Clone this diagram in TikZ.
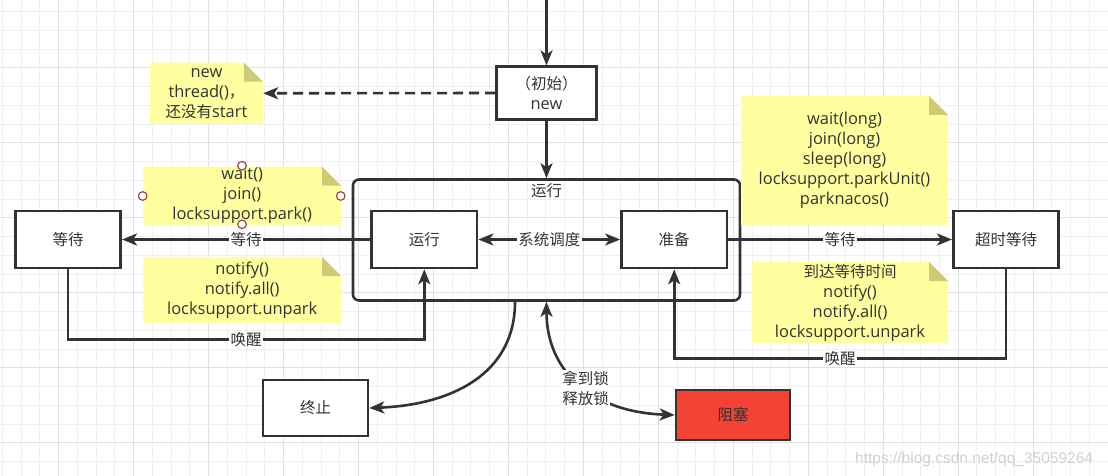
\documentclass[tikz,border=0pt]{standalone}
\usepackage{fontspec}
\setmainfont{Open Sans}[Scale=1.06]
\newfontfamily\zhfont{Noto Sans CJK SC}
\newfontfamily\wmfont{Liberation Sans}
\newcommand{\zh}[1]{{\zhfont #1}}
\usetikzlibrary{arrows.meta,calc}
\definecolor{ink}{HTML}{333333}
\definecolor{notefill}{HTML}{FFFFA0}
\definecolor{foldfill}{HTML}{CCCC77}
\definecolor{blockred}{HTML}{F44336}
\definecolor{handlecol}{HTML}{9A3A3A}
\definecolor{gridminor}{HTML}{EFEFEF}
\definecolor{gridmajor}{HTML}{E0E0E0}
\begin{document}
\begin{tikzpicture}[x=1pt,y=-1pt,
  every node/.style={font=\fontsize{15.5}{20}\selectfont, text=ink},
  box/.style={draw=ink, line width=2.6pt, rectangle, inner sep=0pt, align=center,
    minimum width=105.5pt, minimum height=57pt, fill=white},
  notebox/.style={rectangle, inner sep=0pt, align=center,
    path picture={
      \fill[notefill] (path picture bounding box.south west) -- (path picture bounding box.north west)
        -- ([xshift=-19pt]path picture bounding box.north east)
        -- ([yshift=-19pt]path picture bounding box.north east)
        -- (path picture bounding box.south east) -- cycle;
      \fill[foldfill] ([xshift=-19pt]path picture bounding box.north east)
        -- ([xshift=-19pt,yshift=-19pt]path picture bounding box.north east)
        -- ([yshift=-19pt]path picture bounding box.north east) -- cycle;
    }},
  conn/.style={draw=ink, line width=2.6pt, -{Stealth[length=15pt,width=12pt,inset=4pt]}},
  conntwo/.style={draw=ink, line width=2.6pt, {Stealth[length=15pt,width=12pt,inset=4pt]}-{Stealth[length=15pt,width=12pt,inset=4pt]}},
  lbl/.style={fill=white, inner sep=1.5pt, align=center},
  gmin/.style={draw=gridminor, line width=1pt},
  gmaj/.style={draw=gridmajor, line width=1pt}
]
\useasboundingbox (0,0) rectangle (1108,476);
\fill[white] (0,0) rectangle (1108,476);
% grid
\foreach \k in {-3,...,56}{
  \pgfmathsetmacro\gx{58.7+18.74*\k}
  \pgfmathtruncatemacro\gm{mod(\k+400,4)}
  \ifnum\gm=0 \draw[gmaj] (\gx,0) -- (\gx,476); \else \draw[gmin] (\gx,0) -- (\gx,476); \fi
}
\foreach \k in {-3,...,21}{
  \pgfmathsetmacro\gy{68+18.74*\k}
  \pgfmathtruncatemacro\gm{mod(\k+400,4)}
  \ifnum\gm=0 \draw[gmaj] (0,\gy) -- (1108,\gy); \else \draw[gmin] (0,\gy) -- (1108,\gy); \fi
}

% container
\node[draw=ink, line width=2.6pt, rounded corners=6pt, minimum width=387pt, minimum height=121pt, inner sep=0pt] (run) at (546.5,240) {};
\node (runlbl) at (546.5,191) {\zh{运行}};

% boxes
\node[box, minimum width=100pt, minimum height=52.6pt] (newb) at (546.5,93) {\zh{（初始）}\\new};
\node[box] (runin) at (424.3,239.5) {\zh{运行}};
\node[box] (prep) at (674.2,239.5) {\zh{准备}};
\node[box] (waitb) at (68,239.5) {\zh{等待}};
\node[box] (timed) at (1006,239.5) {\zh{超时等待}};
\node[box, minimum width=105pt, minimum height=56pt] (term) at (315.5,408) {\zh{终止}};
\node[box, fill=blockred, minimum width=114pt, minimum height=50pt] (block) at (733,415) {\zh{阻塞}};

% notes
\node[notebox, minimum width=113pt, minimum height=61.3pt] (n1) at (206.5,93.3) {new\\thread()\zh{，}\\\zh{还没有}start};
\node[notebox, minimum width=197.7pt, minimum height=58.3pt] (n2) at (242.2,195.8) {wait()\\join()\\locksupport.park()};
\node[notebox, minimum width=197.7pt, minimum height=66pt] (n3) at (242.2,290) {notify()\\notify.all()\\locksupport.unpark};
\node[notebox, minimum width=207pt, minimum height=129pt] (n4) at (844.5,160.5) {wait(long)\\join(long)\\sleep(long)\\locksupport.parkUnit()\\parknacos()};
\node[notebox, minimum width=196pt, minimum height=81pt] (n5) at (850,302.5) {\zh{到达等待时间}\\notify()\\notify.all()\\locksupport.unpark};

% selection handles
\foreach \p in {(242,165.7),(142.7,196),(340.7,196),(242,224.3)}
  \draw[draw=handlecol, fill=white, line width=1.1pt] \p circle (4.3pt);

% connectors
\coordinate (topin) at (546.5,0);
\draw[conn] (topin) -- (newb.north);
\draw[conn, dash pattern=on 10pt off 6pt] (newb.west) -- (n1.east);
\draw[conn] (newb.south) -- (run.north);
\draw[conn] (runin.west) -- node[lbl]{\zh{等待}} (waitb.east);
\draw[conntwo] (runin.east) -- node[lbl]{\zh{系统调度}} (prep.west);
\draw[conn] (prep.east) -- node[lbl]{\zh{等待}} (timed.west);
\draw[conn] (waitb.south) -- ++(0,70) -| node[lbl,pos=0.25]{\zh{唤醒}} (runin.south);
\draw[conn] (timed.south) -- ++(0,89) -| node[lbl,pos=0.25]{\zh{唤醒}} (prep.south);
\coordinate (runout) at ($(run.south)+(-31.5,0)$);
\draw[conn] (runout) .. controls (515,375) and (450,405) .. (term.east);
\draw[conntwo] (run.south) .. controls (546.5,370) and (590,412) .. node[lbl,pos=0.55]{\zh{拿到锁}\\\zh{释放锁}} (block.west);

% watermark
\node[anchor=base west, inner sep=0pt, font=\wmfont\fontsize{15.5}{18}\selectfont, text=black!18] (wm) at (855,463) {https://blog.csdn.net/qq\_35059264};
\end{tikzpicture}
\end{document}
